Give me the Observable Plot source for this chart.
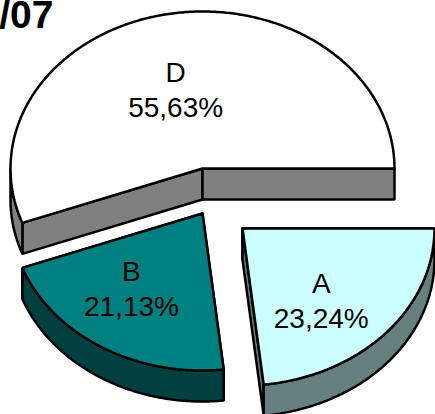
<!DOCTYPE html>
<html>
<head>
<meta charset="utf-8">
<style>html,body{margin:0;padding:0;background:#fff;overflow:hidden}svg{display:block}</style>
<script src="https://cdn.jsdelivr.net/npm/d3@7"></script>
<script src="https://cdn.jsdelivr.net/npm/@observablehq/plot@0.6"></script>
</head>
<body>
<div id="chart"></div>
<script>
const categories = ["A", "B", "D"];
const shares = [23.24, 21.13, 55.63];
const shareLabels = ["23,24%", "21,13%", "55,63%"];
const titleFragment = "/07";

// Layout of the exploded tilted pie, in radius units of the chart space
const W = 435, H = 414;
const RX = 192, RY = 157, CX = 202, CY = 168;
const DEPTH = 31 / RY;
const explode = {A: [40 / RX, -60 / RY], B: [0, -45 / RY], D: [0, 0]};
const labelAt = {A: [0.41, -0.449], B: [-0.37, -0.468], D: [-0.14, 0.512]};
const topFill = {A: "#ccffff", B: "#008080", D: "#ffffff"};
const wallFill = {A: "#668080", B: "#004040", D: "#808080"};

// Walk clockwise from 3 o'clock, as the pie does
let cursor = 0;
const slices = categories.map((name, i) => {
  const a0 = cursor; cursor -= shares[i] / 100 * 2 * Math.PI;
  return {name, label: shareLabels[i], a0, a1: cursor, off: explode[name]};
});

function arcPts(s, from, to) {
  const n = Math.max(2, Math.ceil(Math.abs(to - from) / 0.01));
  return d3.range(n + 1).map(i => {
    const t = from + (to - from) * i / n;
    return [s.off[0] + Math.cos(t), s.off[1] + Math.sin(t)];
  });
}
const down = ([x, y]) => [x, y - DEPTH];
const close = p => [...p, p[0]];

function faces(s) {
  const apex = s.off;
  const out = [];
  const edge = e => {
    const p = [s.off[0] + Math.cos(e), s.off[1] + Math.sin(e)];
    out.push({pts: close([apex, p, down(p), down(apex)]), fill: wallFill[s.name]});
  };
  edge(s.a0); edge(s.a1);
  // Outer wall: only the part of the rim facing the viewer (sin < 0)
  for (const [lo, hi] of [[-Math.PI, 0], [-3 * Math.PI, -2 * Math.PI]]) {
    const from = Math.min(s.a0, hi), to = Math.max(s.a1, lo);
    if (from > to) {
      const rim = arcPts(s, from, to);
      out.push({pts: close([...rim, ...rim.slice().reverse().map(down)]), fill: wallFill[s.name]});
    }
  }
  out.push({pts: close([apex, ...arcPts(s, s.a0, s.a1)]), fill: topFill[s.name]});
  return out;
}

const drawOrder = ["D", "B", "A"].map(n => slices.find(s => s.name === n));
const faceMarks = drawOrder.flatMap(faces).map(f =>
  Plot.line(f.pts, {x: d => d[0], y: d => d[1], fill: f.fill, stroke: "#000", strokeWidth: 2.5,
                    strokeLinejoin: "miter", curve: "linear"}));

const chart = Plot.plot({
  width: W, height: H, margin: 0,
  x: {domain: [-CX / RX, (W - CX) / RX], range: [0, W], axis: null},
  y: {domain: [CY / RY, (CY - H) / RY], range: [0, H], axis: null},
  style: {background: "#fff"},
  marks: [
    ...faceMarks,
    Plot.text(slices, {
      x: s => s.off[0] + labelAt[s.name][0],
      y: s => s.off[1] + labelAt[s.name][1],
      text: s => s.name + "\n" + s.label,
      fontFamily: "Liberation Sans, Arial, sans-serif", fontSize: 28, lineHeight: 1.28, fill: "#000"
    }),
    Plot.text([titleFragment], {
      frameAnchor: "top-left", textAnchor: "end", lineAnchor: "top", dx: 53, dy: 0,
      fontFamily: "Liberation Sans, Arial, sans-serif", fontSize: 39, fontWeight: "bold", fill: "#000"
    })
  ]
});
document.getElementById("chart").append(chart);
</script>
</body>
</html>
